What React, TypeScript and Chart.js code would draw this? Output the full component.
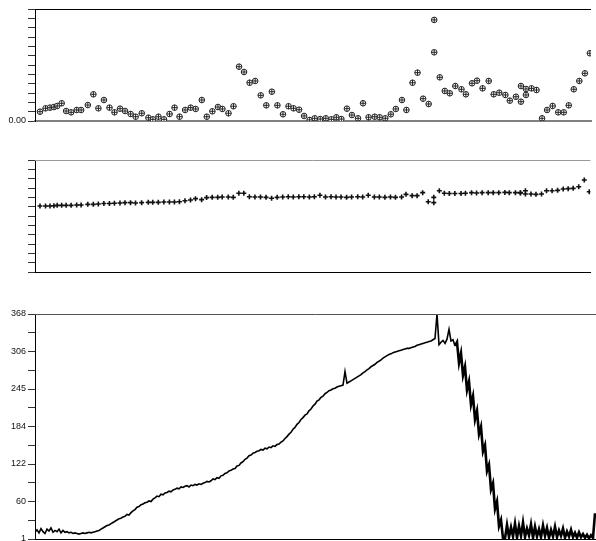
import React, { useEffect, useRef } from "react";
import { Chart, registerables } from "chart.js";

Chart.register(...registerables);

// Sample times (percent of the run) shared by the two upper panels
const sampleTimes = [
  0.9, 1.9, 2.7, 3.4, 4.0, 4.8, 5.6, 6.5, 7.5, 8.3,
  9.5, 10.5, 11.4, 12.4, 13.4, 14.3, 15.3, 16.2, 17.2, 18.1,
  19.2, 20.4, 21.2, 22.2, 23.2, 24.2, 25.1, 26.0, 27.0, 28.0,
  28.9, 30.0, 30.9, 31.9, 32.9, 33.7, 34.8, 35.7, 36.7, 37.6,
  38.6, 39.6, 40.6, 41.6, 42.6, 43.6, 44.6, 45.6, 46.5, 47.5,
  48.4, 49.4, 50.3, 51.3, 52.3, 53.3, 54.2, 55.1, 56.1, 57.0,
  58.1, 59.0, 60.0, 61.1, 62.0, 63.0, 64.0, 64.9, 66.0, 66.8,
  67.9, 68.8, 69.8, 70.8, 71.8, 71.8, 72.8, 73.7, 74.6, 75.6,
  76.7, 77.5, 78.6, 79.5, 80.5, 81.6, 82.5, 83.5, 84.6, 85.4,
  86.5, 87.4, 87.4, 88.3, 88.3, 89.3, 90.2, 91.2, 92.1, 93.1,
  94.1, 95.1, 96.0, 96.9, 97.9, 98.9, 99.8,
];

// Upper panel (circle-cross markers)
const topValues = [
  1.00, 1.36, 1.43, 1.50, 1.61, 1.90, 1.07, 0.93, 1.18, 1.18,
  1.71, 2.86, 1.36, 2.25, 1.43, 0.93, 1.32, 1.07, 0.75, 0.46,
  0.83, 0.35, 0.18, 0.46, 0.18, 0.75, 1.43, 0.46, 1.18, 1.43,
  1.29, 2.25, 0.46, 1.04, 1.50, 1.29, 0.83, 1.58, 5.82, 5.25,
  4.10, 4.29, 2.75, 1.68, 3.14, 1.68, 0.72, 1.58, 1.36, 1.21,
  0.54, 0.11, 0.29, 0.21, 0.29, 0.18, 0.40, 0.21, 1.32, 0.64,
  0.29, 1.90, 0.40, 0.46, 0.40, 0.29, 0.72, 1.29, 2.25, 1.18,
  4.10, 5.18, 2.39, 1.82, 10.83, 7.36, 4.68, 3.22, 2.97, 3.75,
  3.40, 2.86, 4.04, 4.32, 3.50, 4.29, 2.86, 3.03, 2.79, 2.18,
  2.60, 2.07, 3.75, 3.43, 2.79, 3.50, 3.32, 0.29, 1.18, 1.61,
  0.93, 0.93, 1.68, 3.40, 4.29, 5.11, 7.26,
];

// Middle panel (plus markers)
const midValues = [
  7.07, 7.07, 7.07, 7.10, 7.14, 7.14, 7.14, 7.14, 7.18, 7.18,
  7.25, 7.25, 7.29, 7.34, 7.34, 7.36, 7.40, 7.43, 7.43, 7.40,
  7.43, 7.46, 7.46, 7.46, 7.50, 7.50, 7.50, 7.53, 7.64, 7.72,
  7.86, 7.75, 7.97, 8.00, 8.00, 8.04, 8.04, 8.00, 8.43, 8.43,
  8.07, 8.04, 8.04, 8.00, 7.90, 8.00, 8.04, 8.07, 8.04, 8.07,
  8.07, 8.04, 8.07, 8.22, 8.04, 8.07, 8.04, 8.04, 8.00, 8.04,
  8.07, 8.04, 8.22, 8.04, 8.04, 8.00, 8.04, 8.00, 8.04, 8.32,
  8.18, 8.18, 8.50, 7.53, 8.00, 7.43, 8.71, 8.43, 8.41, 8.41,
  8.41, 8.43, 8.50, 8.47, 8.50, 8.50, 8.50, 8.50, 8.53, 8.50,
  8.50, 8.47, 8.50, 8.71, 8.36, 8.36, 8.32, 8.36, 8.71, 8.71,
  8.75, 8.89, 8.93, 8.96, 9.14, 9.86, 8.60,
];

// Lower panel signal (one value per channel)
const signal = [
  12, 16, 11, 18, 13, 10, 17, 14, 19, 12, 15, 13, 17, 11, 15, 12, 13,
  11, 12, 10, 11, 10, 9, 10, 11,
  10, 11, 12, 11, 12, 13,
  14, 15, 17, 19, 21, 23, 24, 26, 28, 30, 32, 34,
  35, 37, 38, 41, 40, 44, 47, 49, 53, 54,
  57, 58, 60, 61, 63, 62, 66, 68, 71, 70,
  74, 73, 76, 77, 79, 78, 81, 82, 84, 83,
  86, 85, 87, 88, 86, 89, 88, 90, 89, 91,
  90, 92, 93, 95, 94, 96, 99, 98, 101, 100,
  104, 105, 108, 109, 112, 113, 115, 116, 120, 121,
  125, 127, 131, 133, 137, 138, 141, 142, 144, 145,
  147, 146, 149, 148, 151, 150, 153, 152, 155, 156,
  159, 161, 165, 168, 172, 175, 180, 183, 188, 191,
  196, 199, 203, 205, 210, 213, 218, 221, 226, 228,
  232, 234, 238, 240, 243, 244, 246, 247, 249, 250,
  251, 252, 274, 255, 257, 259, 261, 263, 265, 267,
  269, 272, 274, 277, 279, 282, 284, 286, 289, 291,
  293, 296, 298, 300, 302, 303, 305, 306, 307, 308,
  309, 310, 311, 312, 312, 313, 314, 315, 317, 318,
  319, 320, 321, 322, 323, 324, 326, 328,
  368, 318, 322, 325, 320, 327, 343, 324, 326, 316,
  322, 288, 304, 268, 282, 244, 258, 220, 234, 196, 210, 172,
  184, 144, 154, 112, 122, 82, 92, 50, 62, 22, 32, 2,
  2, 24, 4, 20, 5, 26, 3, 22, 6, 28,
  4, 18, 7, 25, 3, 21, 5, 17, 4, 23,
  6, 19, 3, 16, 5, 21, 4, 15, 6, 18,
  3, 13, 5, 16, 4, 11, 3, 12, 4, 9,
  3, 8, 2, 7, 3, 43,
];

const topTickLabels = ["0.00"];
const bottomTickLabels = ["1", "60", "122", "184", "245", "306", "368"];

const FONT = { family: "'Liberation Sans', Arial, sans-serif", size: 9 };

function topLine(color: string) {
  return {
    id: "topLine",
    afterDraw(chart: any) {
      const { ctx, chartArea } = chart;
      ctx.save();
      ctx.strokeStyle = color;
      ctx.lineWidth = 1;
      ctx.beginPath();
      const y = Math.round(chartArea.top) + 0.5;
      ctx.moveTo(chartArea.left, y);
      ctx.lineTo(chartArea.right, y);
      ctx.stroke();
      ctx.restore();
    },
  };
}

function yAxis(min: number, max: number, count: number, label: (i: number) => string) {
  const step = (max - min) / count;
  const values: number[] = [];
  for (let i = 0; i <= count; i++) values.push(min + i * step);
  return {
    type: "linear",
    position: "left",
    min,
    max,
    afterFit: (s: any) => {
      s.width = 35;
    },
    afterBuildTicks: (s: any) => {
      s.ticks = values.map((v) => ({ value: v }));
    },
    ticks: {
      font: FONT,
      color: "#111",
      padding: 2,
      autoSkip: false,
      maxRotation: 0,
      callback: (_v: any, i: number) => label(i),
    },
    grid: { drawOnChartArea: false, drawTicks: true, tickLength: 7, tickColor: "#333", lineWidth: 1 },
    border: { display: true, color: "#000", width: 1 },
  };
}

function xAxis(min: number, max: number, height: number, color: string, width: number) {
  return {
    type: "linear",
    position: "bottom",
    min,
    max,
    afterFit: (s: any) => {
      s.height = height;
    },
    ticks: { display: false },
    grid: { display: true, drawOnChartArea: false, drawTicks: false },
    border: { display: true, color, width },
  };
}

const baseOptions = {
  animation: false,
  responsive: false,
  devicePixelRatio: 1,
  events: [],
  plugins: { legend: { display: false }, tooltip: { enabled: false } },
};

export default function App() {
  const c1 = useRef<HTMLCanvasElement>(null);
  const c2 = useRef<HTMLCanvasElement>(null);
  const c3 = useRef<HTMLCanvasElement>(null);

  useEffect(() => {
    document.body.style.margin = "0";
    document.body.style.overflow = "hidden";

    const topPts = sampleTimes.map((t, i) => ({ x: t, y: topValues[i] }));
    const midPts = sampleTimes.map((t, i) => ({ x: t, y: midValues[i] }));
    const sigPts = signal.map((v, k) => ({ x: k, y: v }));

    const chart1 = new Chart(c1.current as HTMLCanvasElement, {
      type: "scatter",
      data: {
        datasets: [
          {
            data: topPts,
            pointStyle: "cross",
            pointRadius: 2.8,
            pointBorderWidth: 1,
            pointBorderColor: "#222",
            order: 0,
          },
          {
            data: topPts,
            pointStyle: "circle",
            pointRadius: 2.8,
            pointBorderWidth: 1,
            pointBorderColor: "#222",
            pointBackgroundColor: "#fff",
            order: 1,
          },
        ],
      },
      options: {
        ...baseOptions,
        layout: { padding: { top: 9, left: 0, right: 0, bottom: 0 } },
        scales: {
          x: xAxis(0, 100, 14, "#808080", 2),
          y: yAxis(0, 12, 12, (i) => (i === 0 ? topTickLabels[0] : "")),
        },
      } as any,
      plugins: [topLine("#000")],
    });

    const chart2 = new Chart(c2.current as HTMLCanvasElement, {
      type: "scatter",
      data: {
        datasets: [
          {
            data: midPts,
            pointStyle: "cross",
            pointRadius: 2.5,
            pointBorderWidth: 1.6,
            pointBorderColor: "#111",
          },
        ],
      },
      options: {
        ...baseOptions,
        layout: { padding: { top: 25, left: 0, right: 0, bottom: 0 } },
        scales: {
          x: xAxis(0, 100, 18, "#000", 1),
          y: yAxis(0, 12, 12, () => ""),
        },
      } as any,
      plugins: [topLine("#999")],
    });

    const chart3 = new Chart(c3.current as HTMLCanvasElement, {
      type: "line",
      data: {
        datasets: [
          {
            data: sigPts,
            borderColor: "#000",
            borderWidth: 1.6,
            pointRadius: 0,
            tension: 0,
            fill: false,
            segment: {
              borderWidth: (ctx: any) => (ctx.p0.parsed.x >= 210 ? 2.6 : 1.6),
            },
          },
        ],
      },
      options: {
        ...baseOptions,
        layout: { padding: { top: 24, left: 0, right: 0, bottom: 0 } },
        scales: {
          x: xAxis(0, 280.5, 16, "#000", 1),
          y: yAxis(1, 368, 12, (i) => (i % 2 === 0 ? bottomTickLabels[i / 2] : "")),
        },
      } as any,
      plugins: [topLine("#555")],
    });

    return () => {
      chart1.destroy();
      chart2.destroy();
      chart3.destroy();
    };
  }, []);

  const canvasStyle = (top: number): React.CSSProperties => ({
    position: "absolute",
    left: 0,
    top,
    display: "block",
  });

  return (
    <div
      style={{
        position: "fixed",
        left: 0,
        top: 0,
        width: 596,
        height: 541,
        overflow: "hidden",
        background: "#fff",
      }}
    >
      <canvas ref={c1} width={596} height={135} style={canvasStyle(0)} />
      <canvas ref={c2} width={596} height={155} style={canvasStyle(135)} />
      <canvas ref={c3} width={596} height={265} style={canvasStyle(290)} />
    </div>
  );
}
